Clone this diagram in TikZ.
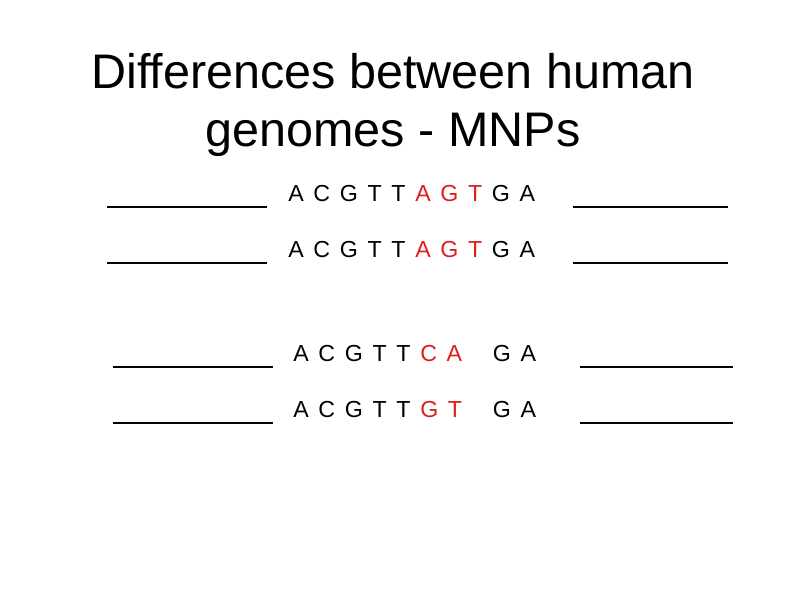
\documentclass[tikz,border=0pt]{standalone}
\usepackage{fontspec}
\setmainfont{Liberation Sans}
\newfontfamily\seqfont[WordSpace=1.5]{Liberation Sans}
\usepackage{xcolor}
\usetikzlibrary{positioning}
\definecolor{snpred}{HTML}{E01E1E}
\definecolor{ink}{HTML}{000000}

\begin{document}
\begin{tikzpicture}[
      x=0.025cm, y=-0.025cm,
      heading/.style={inner sep=0pt, anchor=base, text=ink,
        font=\fontsize{34.5pt}{41pt}\selectfont},
      seq/.style={inner sep=0pt, anchor=base west, text=ink,
        font=\seqfont\fontsize{16.5pt}{20pt}\selectfont},
      strand/.style={draw=ink, line width=0.8pt}
    ]
    \fill[white] (0,0) rectangle (800,600);
    \useasboundingbox (0,0) rectangle (800,600);

    % title
    \node[heading] (title1) at (393,88) {Differences between human};
    \node[heading] (title2) at (393,146) {genomes - MNPs};

    % aligned reads
    \node[seq] (readA) at (288,201) {A C G T T \textcolor{snpred}{A G T} G A};
    \node[seq] (readB) at (288,257) {A C G T T \textcolor{snpred}{A G T} G A};
    \node[seq] (readC) at (293,361) {A C G T T \textcolor{snpred}{C A}\hspace{15pt} G A};
    \node[seq] (readD) at (293,417) {A C G T T \textcolor{snpred}{G T}\hspace{15pt} G A};

    % flanking sequence
    \draw[strand] (107,207) -- (267,207);
    \draw[strand] (573,207) -- (728,207);
    \draw[strand] (107,263) -- (267,263);
    \draw[strand] (573,263) -- (728,263);
    \draw[strand] (113,367) -- (273,367);
    \draw[strand] (580,367) -- (733,367);
    \draw[strand] (113,423) -- (273,423);
    \draw[strand] (580,423) -- (733,423);
  \end{tikzpicture}
\end{document}
